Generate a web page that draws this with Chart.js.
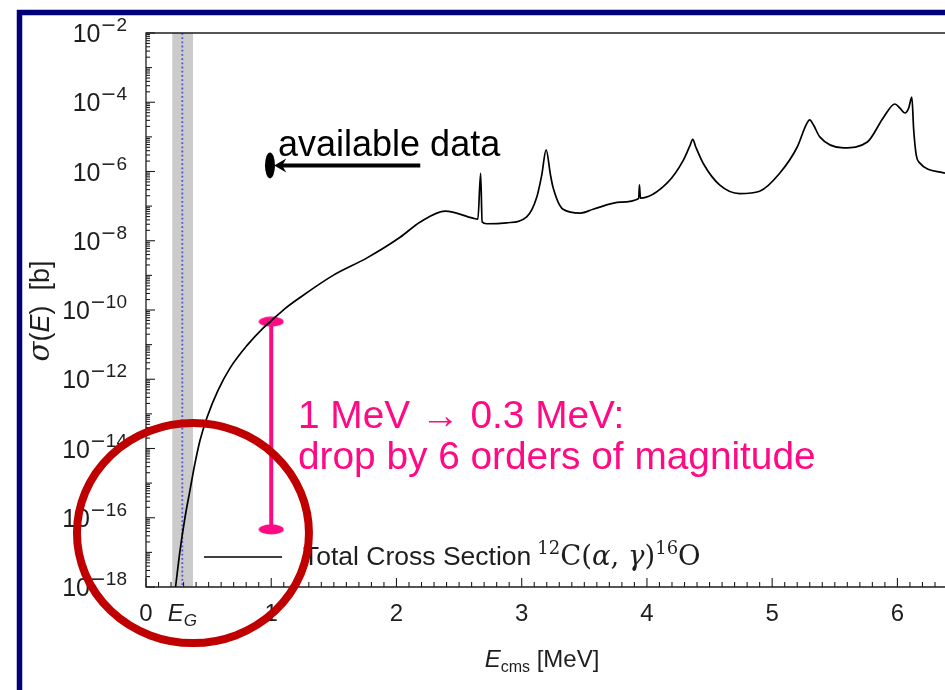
<!DOCTYPE html>
<html><head><meta charset="utf-8">
<script src="https://cdn.jsdelivr.net/npm/chart.js@4.4.1/dist/chart.umd.min.js"></script>
<style>html,body{margin:0;padding:0;background:#fff;overflow:hidden}</style>
</head><body>
<canvas id="c" width="945" height="690" style="width:945px;height:690px;display:block"></canvas>
<script>
// ---- data ----
const energyMeV = [0.236,0.272,0.311,0.351,0.391,0.431,0.487,0.575,0.671,0.807,0.935,0.998,1.110,1.230,1.494,1.765,2.029,2.19,2.39,2.61,2.65,2.672,2.684,2.72,2.88,3.04,3.12,3.16,3.195,3.23,3.25,3.33,3.47,3.57,3.79,3.934,3.94,3.948,4.16,4.29,4.345,4.366,4.39,4.45,4.58,4.74,4.90,5.06,5.20,5.27,5.30,5.33,5.38,5.57,5.76,5.89,5.98,6.02,6.06,6.09,6.115,6.13,6.15,6.17,6.38];
const sigmaBarn = [1.0e-18,1.15e-17,1.0e-16,6.2e-16,3.7e-15,1.7e-14,7.9e-14,4.8e-13,2.1e-12,9.5e-12,3.0e-11,4.8e-11,1.1e-10,2.3e-10,1.0e-9,3.2e-9,1.26e-8,3.5e-8,7.2e-8,4.5e-8,4.2e-8,8.9e-7,3.5e-8,3.1e-8,3.3e-8,4.9e-8,1.8e-7,7.9e-7,4.2e-6,7.9e-7,3.5e-7,8.1e-8,6.3e-8,8.1e-8,1.3e-7,1.66e-7,4.1e-7,1.7e-7,4.6e-7,2.1e-6,5.8e-6,8.5e-6,5.1e-6,1.7e-6,4.1e-7,2.3e-7,2.7e-7,8.9e-7,5.1e-6,2.2e-5,3.1e-5,2.2e-5,1.0e-5,4.8e-6,7.1e-6,3.7e-5,8.9e-5,6.8e-5,4.9e-5,6.8e-5,1.4e-4,1.6e-5,3.0e-6,1.9e-6,8.9e-7];
const xTickValues = [0,1,2,3,4,5,6];
const xTickLabels = ['0','1','2','3','4','5','6'];
const xMinorStep = 0.1;
const yDecadeExponents = [-18,-17,-16,-15,-14,-13,-12,-11,-10,-9,-8,-7,-6,-5,-4,-3,-2];
const yLabelExponents = [-18,-16,-14,-12,-10,-8,-6,-4,-2];
const gamowEnergy = 0.29;
const gamowBand = [0.21, 0.375];
const errorBarEnergy = [1, 1];
const errorBarSigma = [4.6e-11, 4.6e-17];
const arrowEnergy = [2.19, 1.04];   // tail, head
const arrowSigma = 1.5e-6;
const arrowDotEnergy = 0.99;
const circleCenter = [0.375, 3.6e-17];
const xRange = [0, 6.38];
const yRange = [1e-18, 1e-2];

// ---- styles ----
const SANS = '"Liberation Sans", Arial, sans-serif';
const SERIF = '"DejaVu Serif", "Liberation Serif", serif';
const PINK = '#ff0a84';
const INK = '#1e1e1e';

function rich(ctx, pieces, x, y, align) {
  let w = 0;
  for (const p of pieces) { ctx.font = p[1]; p.w = ctx.measureText(p[0]).width; w += p.w; }
  let cx = align === 'right' ? x - w : align === 'center' ? x - w / 2 : x;
  ctx.textAlign = 'left'; ctx.textBaseline = 'alphabetic';
  for (const p of pieces) { ctx.font = p[1]; ctx.fillText(p[0], cx, y + (p[2] || 0)); cx += p.w; }
  return w;
}
function seg(ctx, x1, y1, x2, y2) { ctx.beginPath(); ctx.moveTo(x1, y1); ctx.lineTo(x2, y2); ctx.stroke(); }

const cap = document.createElement('canvas');
cap.width = 26; cap.height = 11;
{ const c2 = cap.getContext('2d'); c2.fillStyle = PINK; c2.beginPath(); c2.ellipse(13, 5.5, 12.5, 5, 0, 0, Math.PI * 2); c2.fill(); }

const deco = {
  id: 'deco',
  beforeDraw(chart) {
    const ctx = chart.ctx;
    ctx.save();
    ctx.fillStyle = '#fff'; ctx.fillRect(0, 0, chart.width, chart.height);
    ctx.strokeStyle = '#00007a'; ctx.lineWidth = 5.5;
    ctx.strokeRect(19.5, 12.5, 1100, 1100);
    ctx.restore();
  },
  beforeDatasetsDraw(chart) {
    const ctx = chart.ctx, xs = chart.scales.x, a = chart.chartArea;
    ctx.save();
    const b0 = xs.getPixelForValue(gamowBand[0]), b1 = xs.getPixelForValue(gamowBand[1]);
    ctx.fillStyle = '#cbcbcb'; ctx.fillRect(b0, a.top, b1 - b0, a.bottom - a.top);
    const g = xs.getPixelForValue(gamowEnergy);
    ctx.strokeStyle = '#5252d2'; ctx.lineWidth = 1.8; ctx.setLineDash([1.8, 2.4]);
    seg(ctx, g, a.top, g, a.bottom);
    ctx.restore();
  },
  afterDatasetsDraw(chart) {
    const ctx = chart.ctx, xs = chart.scales.x, ys = chart.scales.y, a = chart.chartArea;
    ctx.save();
    ctx.strokeStyle = INK; ctx.lineWidth = 1.3;
    ctx.beginPath();
    ctx.moveTo(a.right + 5, a.top); ctx.lineTo(a.left, a.top); ctx.lineTo(a.left, a.bottom); ctx.lineTo(a.right + 5, a.bottom);
    ctx.stroke();
    ctx.lineWidth = 1.1;
    // x ticks (inward)
    const nMinor = Math.round((xRange[1] - xRange[0]) / xMinorStep);
    for (let i = 0; i <= nMinor; i++) {
      const v = xRange[0] + i * xMinorStep;
      const px = xs.getPixelForValue(v);
      const major = Math.abs(v - Math.round(v)) < 1e-6;
      seg(ctx, px, a.bottom, px, a.bottom - (major ? 9 : 5));
    }
    // y ticks (inward)
    for (const d of yDecadeExponents) {
      const py = ys.getPixelForValue(Math.pow(10, d));
      seg(ctx, a.left, py, a.left + (d % 2 === 0 ? 9 : 6), py);
      if (d < -2) for (let m = 2; m <= 9; m++) {
        const pm = ys.getPixelForValue(m * Math.pow(10, d));
        seg(ctx, a.left, pm, a.left + 4, pm);
      }
    }
    // labels
    ctx.fillStyle = INK;
    for (const e of yLabelExponents) {
      const py = ys.getPixelForValue(Math.pow(10, e));
      rich(ctx, [['10', '25px ' + SANS, 0], ['\u2212', '19px "DejaVu Sans"', -11], [String(-e), '19px ' + SANS, -11]], a.left - 19, py + 9, 'right');
    }
    xTickValues.forEach((v, i) => {
      rich(ctx, [[xTickLabels[i], '24px ' + SANS]], xs.getPixelForValue(v), 621, 'center');
    });
    rich(ctx, [['E', 'italic 24px ' + SANS], ['G', 'italic 17px ' + SANS, 5]], xs.getPixelForValue(gamowEnergy), 621, 'center');
    // axis titles
    rich(ctx, [['E', 'italic 24px ' + SANS], ['cms', '16px ' + SANS, 5], [' [MeV]', '24px ' + SANS]], 542, 667, 'center');
    ctx.save(); ctx.translate(49, 311); ctx.rotate(-Math.PI / 2);
    rich(ctx, [['\u03c3', 'italic 29px ' + SERIF], ['(', '27px ' + SANS], ['E', 'italic 27px ' + SANS], [')  [b]', '27px ' + SANS]], 0, 0, 'center');
    ctx.restore();
    // legend
    ctx.strokeStyle = '#000'; ctx.lineWidth = 1.7;
    seg(ctx, 204, 557, 282, 557);
    let w = rich(ctx, [['Total Cross Section', '26.5px ' + SANS]], 303, 565, 'left');
    rich(ctx, [['12', '18px ' + SERIF, -11], ['C(', '27.5px ' + SERIF], ['\u03b1', 'italic 27.5px ' + SERIF], [', ', '27.5px ' + SERIF], ['\u03b3', 'italic 27.5px ' + SERIF], [')', '27.5px ' + SERIF], ['16', '18px ' + SERIF, -11], ['O', '27.5px ' + SERIF]], 303 + w + 6, 565, 'left');
    // available data arrow
    const ay = ys.getPixelForValue(arrowSigma);
    const tx = xs.getPixelForValue(arrowEnergy[0]), hx = xs.getPixelForValue(arrowEnergy[1]);
    ctx.fillStyle = '#000'; ctx.strokeStyle = '#000'; ctx.lineWidth = 4;
    seg(ctx, tx, ay, hx + 5, ay);
    ctx.beginPath(); ctx.moveTo(hx - 2, ay); ctx.lineTo(hx + 10, ay - 7); ctx.lineTo(hx + 6, ay); ctx.lineTo(hx + 10, ay + 7); ctx.closePath(); ctx.fill();
    ctx.beginPath(); ctx.ellipse(xs.getPixelForValue(arrowDotEnergy), ay, 5, 13, 0, 0, Math.PI * 2); ctx.fill();
    ctx.font = '36px ' + SANS; ctx.textAlign = 'left'; ctx.textBaseline = 'alphabetic';
    ctx.fillText('available data', 278, 156);
    // pink annotation
    ctx.fillStyle = PINK; ctx.font = '38.8px ' + SANS;
    ctx.fillText('1 MeV \u2192 0.3 MeV:', 298, 428);
    ctx.fillText('drop by 6 orders of magnitude', 298, 469);
    ctx.restore();
  },
  afterDraw(chart) {
    const ctx = chart.ctx, xs = chart.scales.x, ys = chart.scales.y;
    ctx.save();
    ctx.strokeStyle = '#c00000'; ctx.lineWidth = 8;
    ctx.beginPath();
    ctx.ellipse(xs.getPixelForValue(circleCenter[0]), ys.getPixelForValue(circleCenter[1]), 116, 110, 0, 0, Math.PI * 2);
    ctx.stroke();
    ctx.restore();
  }
};

new Chart(document.getElementById('c').getContext('2d'), {
  type: 'line',
  data: {
    datasets: [
      { data: energyMeV.map((e, i) => ({ x: e, y: sigmaBarn[i] })), borderColor: '#000', borderWidth: 1.7,
        pointRadius: 0, cubicInterpolationMode: 'monotone', fill: false },
      { data: errorBarEnergy.map((e, i) => ({ x: e, y: errorBarSigma[i] })), borderColor: PINK, borderWidth: 4,
        pointStyle: cap, pointRadius: 6, tension: 0, fill: false, clip: false }
    ]
  },
  options: {
    responsive: false, animation: false, devicePixelRatio: 1, events: [],
    layout: { autoPadding: false, padding: { left: 146, right: 0, top: 33, bottom: 103 } },
    plugins: { legend: { display: false }, tooltip: { enabled: false } },
    scales: {
      x: { type: 'linear', min: xRange[0], max: xRange[1], display: false },
      y: { type: 'logarithmic', min: yRange[0], max: yRange[1], display: false }
    }
  },
  plugins: [deco]
});
</script>
</body></html>
